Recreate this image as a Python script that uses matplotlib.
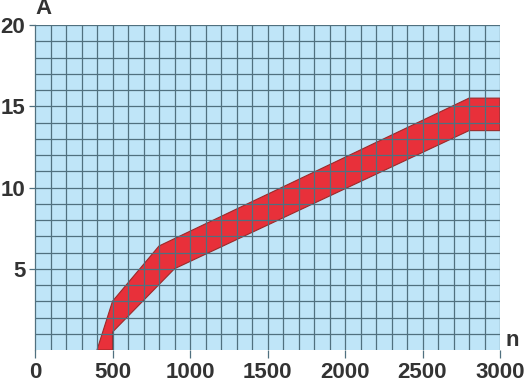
import numpy as np
import matplotlib.pyplot as plt

# band outline (n vs A)
upper_n = [400, 500, 800, 2800, 3000]
upper_a = [0.0, 3.0, 6.4, 15.5, 15.5]
lower_n = [500, 500, 900, 2800, 3000]
lower_a = [0.0, 1.1, 5.0, 13.5, 13.5]

xticks = [0, 500, 1000, 1500, 2000, 2500, 3000]
yticks = [5, 10, 15, 20]

fig = plt.figure(figsize=(5.24, 3.82), dpi=100)
ax = fig.add_axes([35/524, 32/382, 465/524, 325/382])
ax.set_facecolor('#bfe5f8')

poly_n = upper_n + lower_n[::-1]
poly_a = upper_a + lower_a[::-1]
ax.fill(poly_n, poly_a, facecolor='#e8303a', edgecolor='#9a2a2a', lw=0.8, zorder=1)

for v in np.arange(100, 3001, 100):
    ax.axvline(v, color='#50707f', lw=0.9, zorder=2)
for v in np.arange(1, 21, 1):
    ax.axhline(v, color='#50707f', lw=0.9, zorder=2)

ax.set_xlim(0, 3000)
ax.set_ylim(0, 20)
for s in ['top', 'right', 'bottom']:
    ax.spines[s].set_visible(False)
ax.spines['left'].set_color('#50707f')
ax.spines['left'].set_linewidth(0.9)

ax.set_xticks(xticks)
ax.set_yticks(yticks)
ax.tick_params(axis='x', length=6, width=0.9, color='#50707f', pad=2.5,
               labelsize=16, labelcolor='#333333')
ax.tick_params(axis='y', length=4, width=0.9, color='#50707f', pad=3,
               labelsize=16, labelcolor='#333333')
for lab in ax.get_xticklabels() + ax.get_yticklabels():
    lab.set_fontweight('bold')
    lab.set_fontfamily('Liberation Sans')

fig.text(44/524, 1 - 9/382, 'A', fontsize=16, fontweight='bold', color='#333333',
         family='Liberation Sans', ha='center', va='center')
fig.text(512/524, 1 - 341/382, 'n', fontsize=16, fontweight='bold', color='#333333',
         family='Liberation Sans', ha='center', va='center')

fig.savefig('out.png', dpi=100)
